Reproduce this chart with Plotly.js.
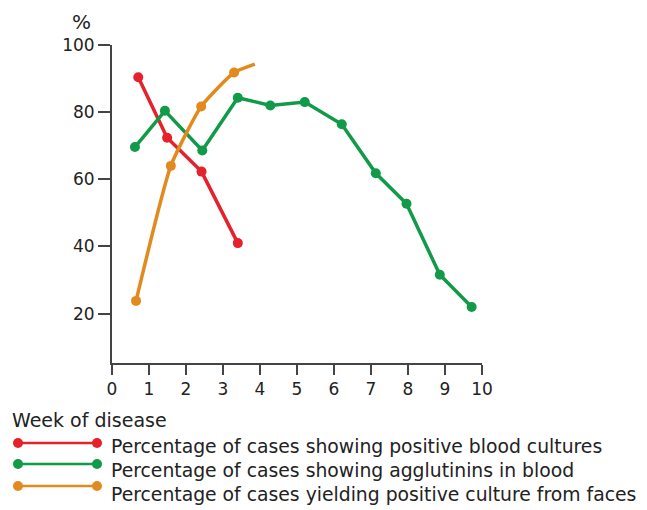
<!DOCTYPE html>
<html>
<head>
<meta charset="utf-8">
<script src="https://cdn.plot.ly/plotly-3.0.1.min.js"></script>
<style>html,body{margin:0;padding:0;background:#fff;}#chart{width:647px;height:510px;}</style>
</head>
<body>
<div id="chart"></div>
<script>
// Data (x = week of disease, y = %)
var bloodX = [0.71, 1.49, 2.42, 3.40];
var bloodY = [90.4, 72.4, 62.3, 41.0];

var agglX = [0.62, 1.43, 2.44, 3.40, 4.28, 5.21, 6.21, 7.13, 7.96, 8.86, 9.72];
var agglY = [69.6, 80.4, 68.6, 84.3, 82.0, 83.0, 76.4, 61.8, 52.7, 31.6, 22.0];

var facesX = [0.65, 1.59, 2.41, 3.30, 3.86];
var facesY = [23.8, 64.0, 81.7, 91.8, 94.3];
var facesMarked = [true, true, true, true, false];

var xTicks = [0, 1, 2, 3, 4, 5, 6, 7, 8, 9, 10];
var yTicks = [20, 40, 60, 80, 100];

var seriesNames = [
  "Percentage of cases showing positive blood cultures",
  "Percentage of cases showing agglutinins in blood",
  "Percentage of cases yielding positive culture from faces"
];
var xTitle = "Week of disease";
var yTitle = "%";

var RED = "#e5212b", GREEN = "#119a48", ORANGE = "#e28a1e";
var colors = [RED, GREEN, ORANGE];

var W = 647, H = 510;
var M = {l: 112, r: 165, t: 45, b: 147};
var pw = W - M.l - M.r, ph = H - M.t - M.b;
function px(x) { return (x - M.l) / pw; }
function py(y) { return (H - M.b - y) / ph; }

var FONT = "DejaVu Sans, Arial, sans-serif";

var traces = [
  {x: bloodX, y: bloodY, mode: "lines+markers", line: {color: RED, width: 3.5},
   marker: {color: RED, size: 10, opacity: 1, line: {width: 0}}, showlegend: false, cliponaxis: false},
  {x: agglX, y: agglY, mode: "lines+markers", line: {color: GREEN, width: 3.5},
   marker: {color: GREEN, size: 10, opacity: 1, line: {width: 0}}, showlegend: false, cliponaxis: false},
  {x: facesX, y: facesY, mode: "lines", line: {color: ORANGE, width: 3.5, shape: "spline", smoothing: 0.5},
   showlegend: false, cliponaxis: false},
  {x: facesX.filter(function(v, i){return facesMarked[i];}),
   y: facesY.filter(function(v, i){return facesMarked[i];}),
   mode: "markers", marker: {color: ORANGE, size: 10, opacity: 1, line: {width: 0}},
   showlegend: false, cliponaxis: false}
];

// legend glyphs and text (pixel positions converted to paper coords)
var legLineY = [443, 464, 486];
var legTextY = [446, 470, 495];
var shapes = [], annotations = [];
for (var i = 0; i < 3; i++) {
  shapes.push({type: "line", xref: "paper", yref: "paper",
    x0: px(18), x1: px(97), y0: py(legLineY[i]), y1: py(legLineY[i]),
    line: {color: colors[i], width: 2.5}});
  [18, 97].forEach(function(cx){
    shapes.push({type: "circle", xref: "paper", yref: "paper",
      x0: px(cx - 5), x1: px(cx + 5), y0: py(legLineY[i] + 5), y1: py(legLineY[i] - 5),
      fillcolor: colors[i], line: {color: colors[i], width: 0}});
  });
  annotations.push({xref: "paper", yref: "paper", x: px(109), y: py(legTextY[i]),
    xanchor: "left", yanchor: "middle", showarrow: false, text: seriesNames[i],
    font: {family: FONT, size: 18.8, color: "#222"}});
}
annotations.push({xref: "paper", yref: "paper", x: px(10), y: py(420),
  xanchor: "left", yanchor: "middle", showarrow: false, text: xTitle,
  font: {family: FONT, size: 19, color: "#222"}});
annotations.push({xref: "paper", yref: "paper", x: px(81), y: py(22),
  xanchor: "center", yanchor: "middle", showarrow: false, text: yTitle,
  font: {family: FONT, size: 20, color: "#222"}});

var axisFont = {family: FONT, size: 17, color: "#222"};
var layout = {
  width: W, height: H,
  margin: M,
  paper_bgcolor: "#fff", plot_bgcolor: "#fff",
  showlegend: false,
  xaxis: {range: [0, 10], tickvals: xTicks, ticktext: xTicks.map(String),
    showgrid: false, zeroline: false, showline: true, linecolor: "#444", linewidth: 2,
    ticks: "outside", ticklen: 10, tickwidth: 2, tickcolor: "#444", tickfont: axisFont},
  yaxis: {range: [5.3, 100], tickvals: yTicks, ticktext: yTicks.map(String),
    showgrid: false, zeroline: false, showline: true, linecolor: "#444", linewidth: 2,
    ticks: "outside", ticklen: 12, tickwidth: 2, tickcolor: "#444", tickfont: axisFont},
  shapes: shapes,
  annotations: annotations
};

Plotly.newPlot("chart", traces, layout, {displayModeBar: false, staticPlot: true});
</script>
</body>
</html>
